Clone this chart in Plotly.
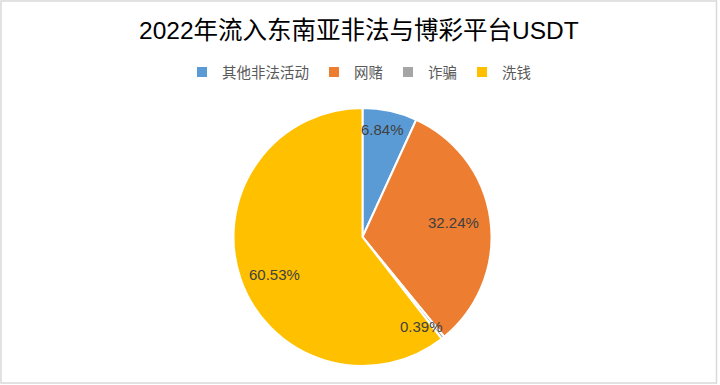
import math
import plotly.graph_objects as go

# ---- data ----
categories = ["其他非法活动", "网赌", "诈骗", "洗钱"]
shares = [6.84, 32.24, 0.39, 60.53]          # percent
colors = ["#5B9BD5", "#ED7D31", "#A5A5A5", "#FFC000"]
title_text = "2022年流入东南亚非法与博彩平台USDT"

# ---- layout constants ----
W, H = 720, 385
CX, CY, R = 362.5, 237.0, 129.0                # pie centre / radius in px
label_radius_frac = [0.85, 0.71, 0.83, 0.74]   # Excel best-fit label placement
label_angle_nudge = [-2.0, -1.5, 5.0, -4.0]    # degrees

FONT = "Liberation Sans, Noto Sans CJK SC, sans-serif"

fig = go.Figure()
fig.add_trace(go.Pie(
    labels=categories,
    values=shares,
    marker=dict(colors=colors, line=dict(color="white", width=2)),
    sort=False,
    direction="clockwise",
    rotation=0,
    textinfo="none",
    hoverinfo="label+percent",
    domain=dict(x=[(CX - R) / W, (CX + R) / W],
                y=[1 - (CY + R) / H, 1 - (CY - R) / H]),
))

# data labels positioned from the cumulative slice angles
total = sum(shares)
cum = 0.0
annotations = []
for i, v in enumerate(shares):
    mid = (cum + v / 2) / total * 360.0 + label_angle_nudge[i]
    cum += v
    th = math.radians(mid)
    r = label_radius_frac[i] * R
    px = CX + r * math.sin(th)
    py = CY - r * math.cos(th)
    annotations.append(dict(
        x=px / W, y=1 - py / H, xref="paper", yref="paper",
        text=f"{v:.2f}%", showarrow=False,
        font=dict(family=FONT, size=15, color="#404040"),
        xanchor="center", yanchor="middle",
    ))

annotations.append(dict(
    x=0.5 * 718 / W, y=1 - 30 / H, xref="paper", yref="paper",
    text=title_text, showarrow=False,
    font=dict(family=FONT, size=24.5, color="#000000"),
    xanchor="center", yanchor="middle",
))

fig.update_layout(
    width=W, height=H,
    margin=dict(l=0, r=0, t=0, b=0),
    paper_bgcolor="white",
    plot_bgcolor="white",
    showlegend=True,
    legend=dict(
        orientation="h",
        x=0.5 * 718 / W, xanchor="center",
        y=1 - 72 / H, yanchor="middle",
        font=dict(family=FONT, size=14.5, color="#595959"),
        itemwidth=30,
        traceorder="normal",
        bgcolor="rgba(0,0,0,0)",
    ),
    annotations=annotations,
    shapes=[dict(
        type="rect", xref="paper", yref="paper",
        x0=1 / W, x1=716.5 / W, y0=1 - 383 / H, y1=1 - 1 / H,
        line=dict(color="#D9D9D9", width=1.5),
        fillcolor="rgba(0,0,0,0)", layer="below",
    )],
)

fig.write_html("out.html")
